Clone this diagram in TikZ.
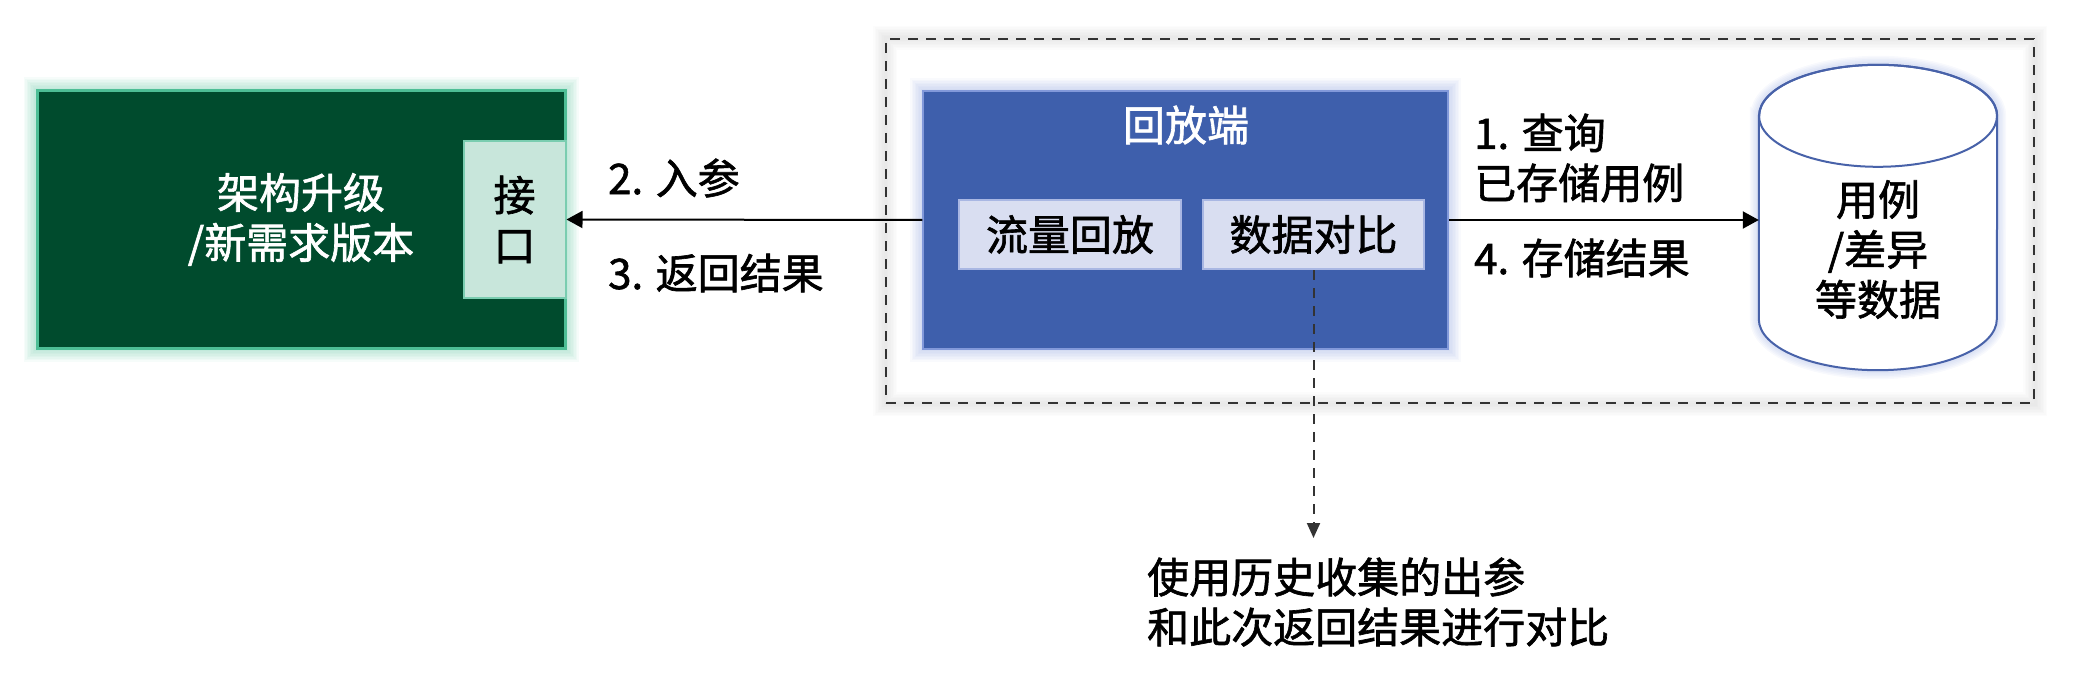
\documentclass[tikz,border=0pt]{standalone}
\usepackage{fontspec}
\setmainfont{Noto Sans CJK SC}[FakeBold=1.5]
\usepackage{tikz}
\usetikzlibrary{arrows.meta,backgrounds}
\definecolor{appgreen}{HTML}{004B2D}
\definecolor{appedge}{HTML}{4DBE95}
\definecolor{ifacefill}{HTML}{C8E6DB}
\definecolor{ifaceedge}{HTML}{7ACDB0}
\definecolor{replayblue}{HTML}{3E5FAC}
\definecolor{replayedge}{HTML}{8299DA}
\definecolor{modfill}{HTML}{D9DEF1}
\definecolor{modedge}{HTML}{A9B7E3}
\definecolor{dbedge}{HTML}{4862A9}
\newcommand{\labelfont}{\fontsize{42}{50}\selectfont}
\newcommand{\glowrect}[3]{% node, colour, steps
  \foreach \g in {1,...,#3} {
    \draw[#2, opacity=0.05, line width=\g*3pt]
      (#1.north west) rectangle (#1.south east);
  }%
}
\newcommand{\dboutline}{%
  ([yshift=-51pt]db.north west) -- ([yshift=51pt]db.south west)
  arc[start angle=180, end angle=360, x radius=119pt, y radius=51pt]
  -- ([yshift=-51pt]db.north east)
  arc[start angle=0, end angle=180, x radius=119pt, y radius=51pt] -- cycle%
}

\begin{document}
\begin{tikzpicture}[
  x=1pt,y=-1pt,
  font=\labelfont,
  appbox/.style={draw=appedge, line width=3pt, fill=appgreen, text=white,
    align=center, inner sep=0pt},
  ifacebox/.style={draw=ifaceedge, line width=2pt, fill=ifacefill,
    align=center, inner sep=0pt},
  replaybox/.style={draw=replayedge, line width=1.5pt, fill=replayblue, inner sep=0pt},
  modbox/.style={draw=modedge, line width=2pt, fill=modfill, minimum height=69pt,
    inner sep=0pt},
  groupframe/.style={draw=black!80, line width=2pt, dash pattern=on 10pt off 8pt,
    inner sep=0pt},
  flow/.style={-{Triangle[length=16pt,width=17pt]}, draw=black, line width=2pt},
  noteflow/.style={-{Triangle[length=15pt,width=13pt]}, draw=black!80, line width=2pt,
    dash pattern=on 10pt off 8pt},
  steplabel/.style={anchor=west, align=left, inner sep=0pt}
]
\path[use as bounding box] (0,0) rectangle (2099,698);

% Dashed group round the replay side
\node[groupframe, minimum width=1148pt, minimum height=364pt] (group) at (1460,221) {};

% System under test
\node[appbox, minimum width=528pt, minimum height=257pt] (app) at (301,219.5)
  {\fontsize{42}{54}\selectfont 架构升级\\/新需求版本};
\node[ifacebox, minimum width=102pt, minimum height=157pt, anchor=east] (iface)
  at (app.east) {\fontsize{42}{43}\selectfont 接\\口};

% Replay side
\node[replaybox, minimum width=525pt, minimum height=258pt] (replay) at (1185.5,220) {};
\node[text=white] (replaytitle) at (1186,125) {回放端};
\node[modbox, minimum width=222pt] (traffic) at (1070,234.5) {流量回放};
\node[modbox, minimum width=221pt] (compare) at (1313.5,234.5) {数据对比};

% Storage
\node[minimum width=238pt, minimum height=305pt, inner sep=0pt] (db) at (1878,217.5) {};
\draw[dbedge, line width=2pt, fill=white] \dboutline;
\draw[dbedge, line width=2pt] ([yshift=-51pt]db.north)
  ellipse[x radius=119pt, y radius=51pt];
\node[align=center, inner sep=0pt] (dbtext) at ([yshift=-32pt]db.center)
  {用例\\/差异\\等数据};

% Soft glows
\begin{scope}[on background layer]
  \glowrect{app}{appedge}{8}
  \glowrect{replay}{replayedge}{8}
  \glowrect{group}{black!25}{8}
  \foreach \g in {1,...,6} {
    \draw[replayedge, opacity=0.06, line width=\g*3pt] \dboutline;
  }
\end{scope}

% Step labels
\node[steplabel] (inarg) at (608,178) {2. 入参};
\node[steplabel] (result) at (608,273) {3. 返回结果};
\node[steplabel] (query) at (1474,158) {1. 查询\\已存储用例};
\node[steplabel] (store) at (1474,258) {4. 存储结果};

% Connectors
\draw[flow] (replay.west) -- (iface.east);
\draw[flow] (replay.east) -- (replay.east -| db.west);
\coordinate (notetip) at (compare.south |- 0,538);
\draw[noteflow] (compare.south) -- (notetip);

\node[steplabel] (note) at (1147,602)
  {使用历史收集的出参\\和此次返回结果进行对比};

\end{tikzpicture}
\end{document}
